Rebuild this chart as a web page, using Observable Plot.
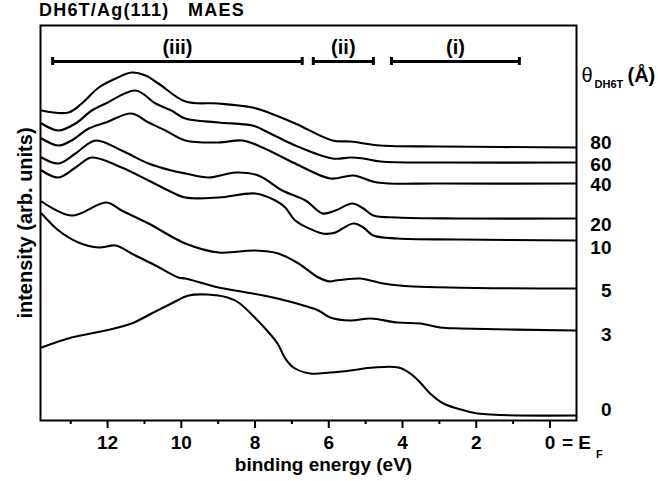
<!DOCTYPE html>
<html><head><meta charset="utf-8">
<script src="https://cdn.jsdelivr.net/npm/d3@7"></script>
<script src="https://cdn.jsdelivr.net/npm/@observablehq/plot@0.6"></script>
<style>
html,body{margin:0;padding:0;background:#fff;}
#title{font:bold 18px "Liberation Sans",Arial,sans-serif;letter-spacing:1.2px;white-space:pre;height:20px;line-height:20px;padding-left:39px;color:#000;}
</style></head><body>
<div id="title">DH6T/Ag(111)   MAES</div>
<div id="chart"></div>
<script>
// coverage of each spectrum (Å), top to bottom
const coverages = ["80", "60", "40", "20", "10", "5", "3", "0"];

// spectra: [binding energy (eV), intensity (arb. units)]
const spec80 = [[13.79,310],[13.06,308],[12.70,317],[12.24,333],[11.78,342],[11.35,348],[10.97,345],[10.62,337],[9.89,319],[8.99,317],[8.07,313],[7.64,308],[6.91,297],[5.90,280],[5.41,279],[4.60,275],[3.00,274],[-0.71,273]];
const spec60 = [[13.79,297],[13.33,290],[12.87,297],[12.43,310],[12.05,317],[11.24,330],[10.70,317],[10.27,310],[9.89,302],[8.99,298],[8.07,295],[7.64,288],[6.91,275],[5.90,262],[5.41,263],[5.06,262],[4.60,259],[3.00,258],[-0.71,258]];
const spec40 = [[13.79,282],[13.33,275],[12.98,280],[12.51,292],[12.05,298],[11.35,307],[10.89,298],[10.43,290],[9.89,280],[8.99,278],[8.34,280],[7.80,273],[6.91,257],[5.96,242],[5.33,245],[4.68,238],[3.00,237],[-0.71,237]];
const spec20 = [[13.79,263],[13.33,257],[12.87,267],[12.33,280],[11.62,270],[10.89,257],[10.27,250],[9.89,247],[9.26,243],[8.53,248],[7.91,245],[7.26,230],[6.63,220],[6.17,207],[5.82,210],[5.36,217],[5.06,212],[4.79,205],[4.14,203],[2.50,202],[-0.71,202]];
const spec10 = [[13.79,250],[13.33,243],[12.87,253],[12.43,263],[11.62,253],[10.89,240],[10.35,230],[9.89,223],[8.99,223],[7.99,227],[7.45,220],[7.18,213],[6.91,200],[6.17,187],[5.96,187],[5.82,188],[5.33,197],[5.06,193],[4.79,185],[4.14,182],[2.50,181],[-0.71,180]];
const spec5  = [[13.79,219],[12.98,205],[12.03,218],[11.62,210],[10.89,197],[9.89,177],[8.99,168],[7.99,170],[7.37,167],[6.82,157],[6.28,143],[5.96,139],[5.82,140],[5.14,142],[4.87,140],[4.52,137],[3.71,134],[-0.71,132]];
const spec3  = [[13.79,207],[13.33,190],[12.79,178],[12.24,173],[11.78,175],[11.35,167],[10.70,155],[10.08,143],[9.89,142],[8.99,133],[8.07,127],[7.18,120],[6.28,110],[5.96,103],[5.41,100],[4.87,102],[4.14,98],[3.52,97],[2.98,93],[2.43,92],[-0.71,90]];
const spec0  = [[13.79,73],[12.98,83],[12.05,90],[11.35,97],[10.81,107],[10.27,117],[9.80,125],[9.29,126],[8.75,123],[8.45,118],[7.85,97],[7.39,77],[7.18,62],[6.96,53],[6.50,47],[5.96,48],[5.41,50],[4.79,53],[4.11,53],[3.79,47],[3.52,38],[3.25,27],[2.89,17],[2.51,12],[1.97,7],[-0.71,5]];
const spectra = [spec80, spec60, spec40, spec20, spec10, spec5, spec3, spec0];

// level (intensity units) of each coverage label on the right
const labelLevels = [278, 256, 236, 196, 173, 130, 86, 11];

// x ticks
const majorTicks = [12, 10, 8, 6, 4, 2, 0];
const minorTicks = [13, 11, 9, 7, 5, 3, 1];

// energy regions
const regionNames = ["(iii)", "(ii)", "(i)"];
const regionFrom = [13.49, 6.42, 4.30];
const regionTo = [6.72, 4.79, 0.83];
const bracketLevel = 359;
const fermiLevel = 0;

const rows = spectra.flatMap((s, k) => s.map(([e, v]) => ({cov: coverages[k], e, v})));
const regions = regionNames.map((name, i) => ({name, from: regionFrom[i], to: regionTo[i]}));
const caps = regions.flatMap(r => [r.from, r.to]);

const plot = Plot.plot({
  width: 658,
  height: 461,
  marginTop: 5,
  marginBottom: 61,
  marginLeft: 40,
  marginRight: 82,
  x: {domain: [13.82, -0.72]},
  y: {domain: [0, 395], axis: null},
  style: {fontFamily: '"Liberation Sans", Arial, sans-serif', fontSize: "20px", fontWeight: "bold", color: "black", background: "white", overflow: "visible"},
  marks: [
    Plot.line(rows, {x: "e", y: "v", z: "cov", stroke: "black", strokeWidth: 2.1, curve: "catmull-rom"}),
    Plot.frame({stroke: "black", strokeWidth: 2}),
    Plot.axisX({ticks: majorTicks, tickSize: 8, tickPadding: 6.5, strokeWidth: 2, fontSize: 19, fontWeight: "bold", tickFormat: d => String(d)}),
    Plot.axisX({ticks: minorTicks, tickSize: 4, strokeWidth: 2, tickFormat: () => ""}),
    Plot.text(["= E"], {x: () => fermiLevel, frameAnchor: "bottom", dx: 12, dy: 28, fontSize: 19, textAnchor: "start", lineAnchor: "bottom"}),
    Plot.text(["F"], {x: () => fermiLevel, frameAnchor: "bottom", dx: 46, dy: 37, fontSize: 11, textAnchor: "start", lineAnchor: "bottom"}),
    Plot.text(["binding energy (eV)"], {frameAnchor: "bottom", dx: 15, dy: 50, fontSize: 19, textAnchor: "middle", lineAnchor: "bottom"}),
    Plot.text(["intensity (arb. units)"], {frameAnchor: "left", dx: -9, rotate: -90, textAnchor: "middle", lineAnchor: "bottom"}),
    Plot.text(coverages, {frameAnchor: "right", y: (d, i) => labelLevels[i], dx: 35, fontSize: 19, textAnchor: "end", lineAnchor: "middle"}),
    Plot.text(["θ"], {frameAnchor: "top-right", dx: 5, dy: 56, textAnchor: "start", lineAnchor: "bottom", fontWeight: "normal"}),
    Plot.text(["DH6T"], {frameAnchor: "top-right", dx: 18, dy: 62, textAnchor: "start", lineAnchor: "bottom", fontSize: 11}),
    Plot.text(["(Å)"], {frameAnchor: "top-right", dx: 51, dy: 56, textAnchor: "start", lineAnchor: "bottom"}),
    Plot.ruleY(regions, {y: () => bracketLevel, x1: "from", x2: "to", strokeWidth: 3}),
    Plot.ruleX(caps, {x: d => d, y1: bracketLevel - 4, y2: bracketLevel + 4, strokeWidth: 3}),
    Plot.text(regions, {x: r => (r.from + r.to) / 2, y: () => bracketLevel, dy: -8, text: "name", lineAnchor: "bottom"})
  ]
});
document.getElementById("chart").appendChild(plot);
</script>
</body></html>
